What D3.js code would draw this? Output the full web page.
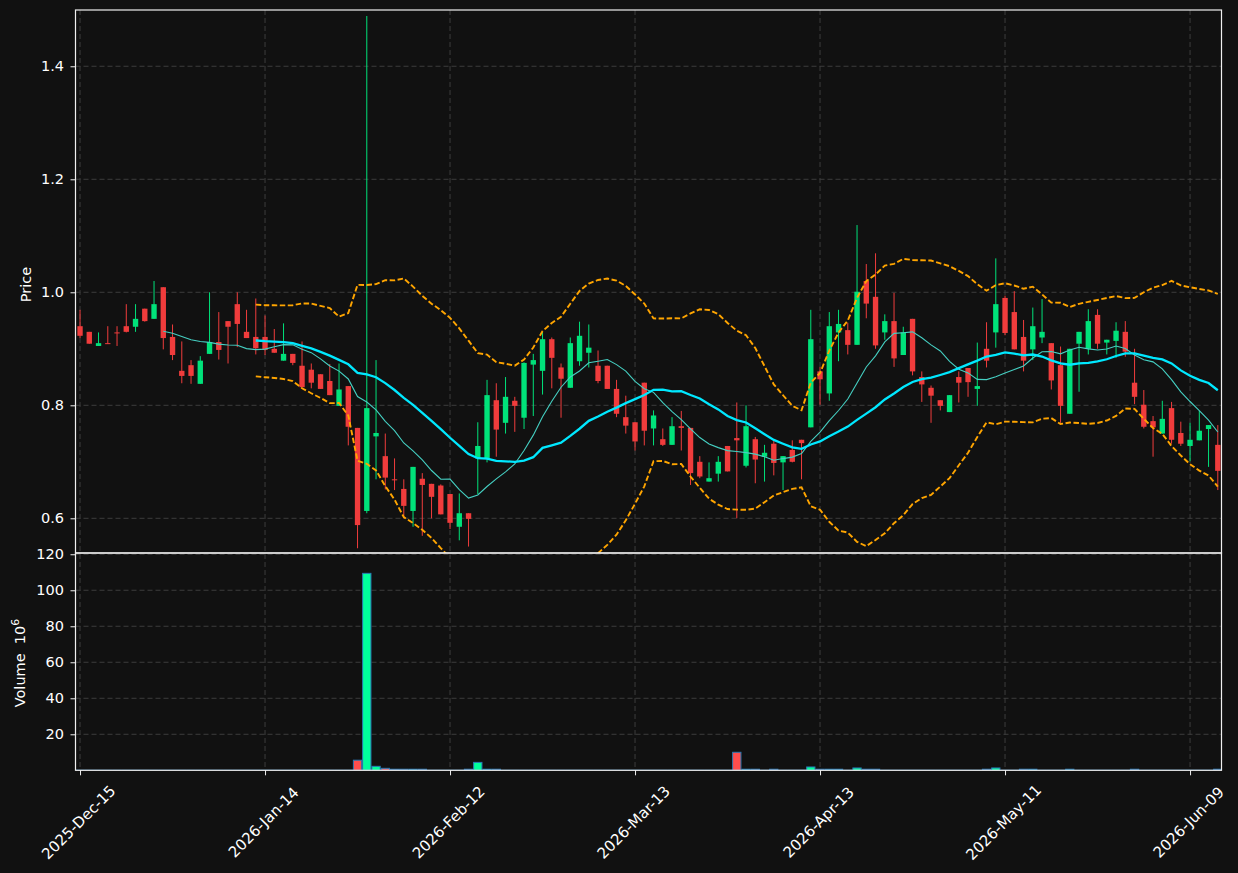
<!DOCTYPE html>
<html>
<head>
<meta charset="utf-8">
<script src="https://cdn.jsdelivr.net/npm/d3@7"></script>
<style>
  html, body { margin: 0; padding: 0; background: #111111; }
  svg { display: block; font-family: "DejaVu Sans", sans-serif; }
  .axis text { fill: #ffffff; font-size: 14.5px; font-family: "DejaVu Sans", sans-serif; }
  .axis.x text { font-size: 15px; }
  .axis path { display: none; }
  .axis line { stroke: #f0f0f0; }
</style>
</head>
<body>
<svg id="chart" width="1238" height="873"></svg>
<script>
// daily candles, index 0 = 2025-Dec-15 ... index 123 = 2026-Jun-12 (trading days only)
const opens = [
  0.940, 0.930, 0.905, 0.910, 0.929, 0.940, 0.939, 0.971, 0.953, 1.009,
  0.921, 0.861, 0.871, 0.838, 0.891, 0.912, 0.949, 0.979, 0.930, 0.921,
  0.921, 0.900, 0.879, 0.891, 0.870, 0.863, 0.855, 0.843, 0.799, 0.834,
  0.760, 0.613, 0.745, 0.710, 0.669, 0.652, 0.613, 0.670, 0.661, 0.658,
  0.643, 0.585, 0.609, 0.706, 0.706, 0.809, 0.769, 0.808, 0.778, 0.872,
  0.861, 0.917, 0.867, 0.831, 0.878, 0.893, 0.870, 0.870, 0.829, 0.779,
  0.770, 0.840, 0.759, 0.740, 0.730, 0.763, 0.760, 0.700, 0.665, 0.679,
  0.728, 0.742, 0.693, 0.740, 0.709, 0.732, 0.699, 0.721, 0.739, 0.761,
  0.860, 0.821, 0.929, 0.933, 0.907, 1.020, 0.992, 0.929, 0.949, 0.889,
  0.953, 0.850, 0.831, 0.809, 0.788, 0.850, 0.866, 0.829, 0.900, 0.929,
  0.990, 0.965, 0.921, 0.899, 0.920, 0.910, 0.871, 0.785, 0.909, 0.900,
  0.960, 0.911, 0.914, 0.930, 0.840, 0.801, 0.772, 0.750, 0.795, 0.751,
  0.728, 0.738, 0.758, 0.730
];
const highs = [
  0.969, 0.930, 0.929, 0.940, 0.940, 0.979, 0.979, 0.971, 1.020, 1.009,
  0.943, 0.913, 0.880, 0.887, 1.000, 0.965, 0.949, 1.000, 0.969, 0.989,
  0.959, 0.935, 0.945, 0.891, 0.913, 0.874, 0.855, 0.873, 0.874, 0.834,
  0.760, 1.489, 0.880, 0.750, 0.706, 0.669, 0.691, 0.680, 0.661, 0.660,
  0.643, 0.644, 0.609, 0.770, 0.845, 0.839, 0.850, 0.815, 0.876, 0.891,
  0.930, 0.920, 0.874, 0.920, 0.948, 0.943, 0.897, 0.870, 0.845, 0.817,
  0.770, 0.840, 0.791, 0.759, 0.779, 0.790, 0.760, 0.710, 0.699, 0.710,
  0.728, 0.805, 0.800, 0.744, 0.730, 0.738, 0.710, 0.738, 0.739, 0.969,
  0.868, 0.965, 0.969, 0.946, 1.119, 1.050, 1.069, 0.961, 0.999, 0.939,
  0.953, 0.860, 0.835, 0.809, 0.818, 0.860, 0.866, 0.911, 0.947, 1.060,
  0.994, 1.002, 0.951, 0.973, 0.988, 0.910, 0.904, 0.900, 0.930, 0.970,
  0.970, 0.916, 0.947, 0.949, 0.900, 0.827, 0.781, 0.808, 0.806, 0.771,
  0.769, 0.790, 0.765, 0.765
];
const lows = [
  0.919, 0.909, 0.905, 0.909, 0.905, 0.929, 0.930, 0.948, 0.953, 0.899,
  0.880, 0.839, 0.838, 0.838, 0.891, 0.881, 0.874, 0.903, 0.919, 0.890,
  0.889, 0.893, 0.879, 0.871, 0.832, 0.830, 0.829, 0.818, 0.799, 0.729,
  0.547, 0.609, 0.669, 0.651, 0.650, 0.600, 0.585, 0.569, 0.600, 0.607,
  0.581, 0.561, 0.550, 0.643, 0.699, 0.709, 0.750, 0.753, 0.758, 0.781,
  0.819, 0.830, 0.778, 0.831, 0.870, 0.867, 0.839, 0.829, 0.779, 0.750,
  0.720, 0.729, 0.729, 0.728, 0.730, 0.720, 0.659, 0.671, 0.665, 0.665,
  0.683, 0.600, 0.690, 0.662, 0.665, 0.676, 0.650, 0.699, 0.669, 0.761,
  0.801, 0.808, 0.878, 0.890, 0.907, 0.954, 0.900, 0.916, 0.868, 0.889,
  0.853, 0.806, 0.769, 0.791, 0.788, 0.805, 0.815, 0.799, 0.867, 0.902,
  0.924, 0.899, 0.860, 0.880, 0.910, 0.828, 0.769, 0.785, 0.824, 0.890,
  0.900, 0.890, 0.884, 0.886, 0.802, 0.759, 0.709, 0.750, 0.732, 0.728,
  0.701, 0.738, 0.691, 0.650
];
const closes = [
  0.923, 0.909, 0.910, 0.909, 0.928, 0.930, 0.953, 0.949, 0.979, 0.919,
  0.889, 0.852, 0.852, 0.879, 0.912, 0.898, 0.939, 0.944, 0.919, 0.901,
  0.898, 0.893, 0.891, 0.875, 0.832, 0.840, 0.829, 0.818, 0.828, 0.762,
  0.588, 0.795, 0.751, 0.672, 0.668, 0.622, 0.691, 0.659, 0.638, 0.607,
  0.592, 0.609, 0.599, 0.728, 0.818, 0.757, 0.815, 0.799, 0.875, 0.880,
  0.917, 0.884, 0.847, 0.910, 0.923, 0.902, 0.843, 0.829, 0.785, 0.764,
  0.736, 0.755, 0.782, 0.730, 0.763, 0.760, 0.680, 0.674, 0.671, 0.700,
  0.683, 0.738, 0.763, 0.704, 0.716, 0.698, 0.710, 0.700, 0.733, 0.917,
  0.846, 0.940, 0.944, 0.907, 1.001, 0.980, 0.906, 0.949, 0.883, 0.929,
  0.860, 0.837, 0.817, 0.799, 0.818, 0.840, 0.841, 0.834, 0.879, 0.979,
  0.928, 0.899, 0.879, 0.940, 0.930, 0.844, 0.799, 0.900, 0.930, 0.949,
  0.909, 0.916, 0.932, 0.895, 0.815, 0.762, 0.761, 0.776, 0.739, 0.732,
  0.739, 0.755, 0.765, 0.684
];
// volume in millions
const volumes = [
  0.05, 0.05, 0.05, 0.05, 0.05, 0.05, 0.05, 0.05, 0.05, 0.05,
  0.05, 0.05, 0.05, 0.05, 0.05, 0.05, 0.05, 0.05, 0.05, 0.05,
  0.05, 0.05, 0.05, 0.05, 0.05, 0.05, 0.05, 0.05, 0.05, 0.05,
  5.6, 109.4, 2.2, 1.1, 0.6, 0.6, 0.6, 0.6, 0.05, 0.05,
  0.05, 0.05, 0.6, 4.4, 0.6, 0.6, 0.05, 0.05, 0.05, 0.05,
  0.05, 0.05, 0.05, 0.05, 0.05, 0.05, 0.05, 0.05, 0.05, 0.05,
  0.05, 0.05, 0.05, 0.05, 0.05, 0.05, 0.05, 0.05, 0.05, 0.05,
  0.05, 10.0, 0.6, 0.6, 0.05, 0.6, 0.05, 0.05, 0.05, 1.85,
  0.6, 0.6, 0.6, 0.05, 1.3, 0.6, 0.6, 0.05, 0.05, 0.05,
  0.05, 0.05, 0.05, 0.05, 0.05, 0.05, 0.05, 0.05, 0.6, 1.3,
  0.05, 0.05, 0.6, 0.6, 0.05, 0.05, 0.05, 0.6, 0.05, 0.05,
  0.05, 0.05, 0.05, 0.05, 0.6, 0.05, 0.05, 0.05, 0.05, 0.05,
  0.05, 0.05, 0.05, 0.6
];
const tickIndex = [0, 20, 40, 60, 80, 100, 120];
const tickLabels = ['2025-Dec-15', '2026-Jan-14', '2026-Feb-12', '2026-Mar-13', '2026-Apr-13', '2026-May-11', '2026-Jun-09'];
const priceTicks = [0.6, 0.8, 1.0, 1.2, 1.4];
const volumeTicks = [20, 40, 60, 80, 100, 120];

const colors = {
  up: '#00e27a', down: '#f03c3c',
  volUp: '#00ff9c', volDown: '#ff4d4d', volEdge: '#2a78b4',
  ma10: '#45cfc2', ma20: '#00e8ff', band: '#ffa500',
  grid: '#3d3d3d', spine: '#f0f0f0'
};

function sma(values, n) {
  const out = [];
  for (let i = n - 1; i < values.length; i++) {
    out.push([i, d3.mean(values.slice(i - n + 1, i + 1))]);
  }
  return out;
}

function bands(values, n, k) {
  const upper = [], lower = [];
  for (let i = n - 1; i < values.length; i++) {
    const w = values.slice(i - n + 1, i + 1);
    const m = d3.mean(w), s = d3.deviation(w);
    upper.push([i, m + k * s]);
    lower.push([i, m - k * s]);
  }
  return [upper, lower];
}

const svg = d3.select('#chart');
const left = 75.5, right = 1221.5;
const priceTop = 10, priceBottom = 553, volBottom = 770.3;

const x = d3.scaleLinear().domain([-0.49, 123.4]).range([left, right]);
const step = x(1) - x(0);
const yPrice = d3.scaleLinear().domain([0.5386, 1.4996]).range([priceBottom, priceTop]);
const yVol = d3.scaleLinear().domain([0, 120.7]).range([volBottom, priceBottom]);

svg.append('rect').attr('width', 1238).attr('height', 873).attr('fill', '#111111');

const defs = svg.append('defs');
defs.append('clipPath').attr('id', 'clip-price')
  .append('rect').attr('x', left).attr('y', priceTop).attr('width', right - left).attr('height', priceBottom - priceTop);
defs.append('clipPath').attr('id', 'clip-vol')
  .append('rect').attr('x', left).attr('y', priceBottom).attr('width', right - left).attr('height', volBottom - priceBottom);

// grid
const grid = svg.append('g')
  .attr('stroke', colors.grid).attr('stroke-width', 1).attr('stroke-dasharray', '5,3');
grid.selectAll('.vg').data(tickIndex).enter().append('line')
  .attr('x1', d => x(d)).attr('x2', d => x(d)).attr('y1', priceTop).attr('y2', volBottom);
grid.selectAll('.hp').data(priceTicks).enter().append('line')
  .attr('x1', left).attr('x2', right).attr('y1', d => yPrice(d)).attr('y2', d => yPrice(d));
grid.selectAll('.hv').data(volumeTicks).enter().append('line')
  .attr('x1', left).attr('x2', right).attr('y1', d => yVol(d)).attr('y2', d => yVol(d));

const idx = d3.range(closes.length);

// candles
const price = svg.append('g').attr('clip-path', 'url(#clip-price)');
const candle = price.selectAll('.candle').data(idx).enter().append('g')
  .attr('fill', i => closes[i] >= opens[i] ? colors.up : colors.down)
  .attr('stroke', i => closes[i] >= opens[i] ? colors.up : colors.down);
candle.append('line')
  .attr('x1', i => x(i)).attr('x2', i => x(i))
  .attr('y1', i => yPrice(highs[i])).attr('y2', i => yPrice(lows[i]))
  .attr('stroke-width', 1);
const bodyW = step * 0.58;
candle.append('rect')
  .attr('stroke', 'none')
  .attr('x', i => x(i) - bodyW / 2)
  .attr('width', bodyW)
  .attr('y', i => yPrice(Math.max(opens[i], closes[i])))
  .attr('height', i => Math.max(1, Math.abs(yPrice(opens[i]) - yPrice(closes[i]))));

// indicators
const line = d3.line().x(d => x(d[0])).y(d => yPrice(d[1]));
const [upper, lower] = bands(closes, 20, 2);
price.append('path').attr('d', line(sma(closes, 10)))
  .attr('fill', 'none').attr('stroke', colors.ma10).attr('stroke-width', 1.1);
price.append('path').attr('d', line(sma(closes, 20)))
  .attr('fill', 'none').attr('stroke', colors.ma20).attr('stroke-width', 2.3);
[upper, lower].forEach(b => {
  price.append('path').attr('d', line(b))
    .attr('fill', 'none').attr('stroke', colors.band)
    .attr('stroke-width', 1.9).attr('stroke-dasharray', '5.5,2.5');
});

// volume
const volW = step * 0.9;
svg.append('g').attr('clip-path', 'url(#clip-vol)')
  .selectAll('rect').data(idx).enter().append('rect')
  .attr('x', i => x(i) - volW / 2)
  .attr('width', volW)
  .attr('y', i => yVol(volumes[i]))
  .attr('height', i => yVol(0) - yVol(volumes[i]))
  .attr('fill', i => closes[i] >= opens[i] ? colors.volUp : colors.volDown)
  .attr('stroke', colors.volEdge)
  .attr('stroke-width', 1);

// spines
[[priceTop, priceBottom], [priceBottom, volBottom]].forEach(([t, b]) => {
  svg.append('rect')
    .attr('x', left).attr('y', t).attr('width', right - left).attr('height', b - t)
    .attr('fill', 'none').attr('stroke', colors.spine).attr('stroke-width', 1.2);
});

// axes
function styleAxis(g) {
  g.attr('font-family', null).attr('font-size', null);
}
svg.append('g').attr('class', 'axis')
  .attr('transform', `translate(${left},0)`)
  .call(d3.axisLeft(yPrice).tickValues(priceTicks).tickFormat(d3.format('.1f')).tickSize(5).tickPadding(6.5))
  .call(styleAxis);
svg.append('g').attr('class', 'axis')
  .attr('transform', `translate(${left},0)`)
  .call(d3.axisLeft(yVol).tickValues(volumeTicks).tickFormat(d3.format('d')).tickSize(5).tickPadding(6.5))
  .call(styleAxis);
const xAxis = svg.append('g').attr('class', 'axis x')
  .attr('transform', `translate(0,${volBottom})`)
  .call(d3.axisBottom(x).tickValues(tickIndex).tickFormat((d, i) => tickLabels[i]).tickSize(5))
  .call(styleAxis);
xAxis.selectAll('text')
  .attr('y', 0).attr('dy', '0.35em')
  .attr('text-anchor', 'middle')
  .attr('transform', 'translate(-2,52) rotate(-45)');

// axis labels
svg.append('text')
  .attr('transform', 'translate(31,284.5) rotate(-90)')
  .attr('text-anchor', 'middle').attr('fill', '#ffffff').attr('font-size', 14.5)
  .text('Price');
const vLabel = svg.append('text')
  .attr('transform', 'translate(25.3,663) rotate(-90)')
  .attr('text-anchor', 'middle').attr('fill', '#ffffff').attr('font-size', 14.5);
vLabel.append('tspan').text('Volume\u00a0\u00a010');
vLabel.append('tspan').attr('baseline-shift', 'super').attr('font-size', 11).text('6');
</script>
</body>
</html>
